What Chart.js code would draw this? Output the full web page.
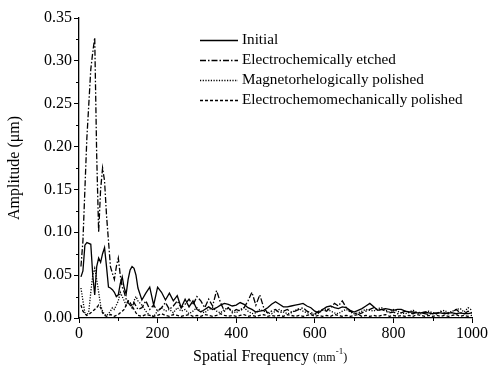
<!DOCTYPE html>
<html><head><meta charset="utf-8">
<script src="https://cdn.jsdelivr.net/npm/chart.js@4/dist/chart.umd.min.js"></script>
<style>html,body{margin:0;padding:0;background:#fff}#wrap{width:489px;height:374px}</style>
</head><body><div id="wrap"><canvas id="c" width="489" height="374"></canvas></div>
<script>
const freq = [5,10,15,20,25,30,35,40,45,50,55,60,65,70,75,80,85,90,95,100,105,110,115,120,125,130,135,140,145,150,
160,170,180,190,200,210,220,230,240,250,260,270,280,290,300,310,320,330,340,350,360,370,380,390,400,
410,420,430,440,450,460,470,480,490,500,510,520,530,540,550,560,570,580,590,600,610,620,630,640,650,
660,670,680,690,700,710,720,730,740,750,760,770,780,790,800,810,820,830,840,850,860,870,880,890,900,
910,920,930,940,950,960,970,980,990,1000];

const initial = [0.048,0.055,0.085,0.088,0.087,0.086,0.05,0.027,0.06,0.07,0.065,0.075,0.082,0.06,0.036,0.035,0.033,0.03,0.025,0.027,0.04,0.048,0.035,0.028,0.045,0.056,0.06,0.058,0.05,0.035,
0.021,0.029,0.036,0.015,0.036,0.03,0.021,0.029,0.02,0.026,0.012,0.022,0.013,0.02,0.01,0.007,0.01,0.013,0.01,0.012,0.015,0.017,0.016,0.014,0.015,
0.018,0.016,0.012,0.01,0.007,0.008,0.009,0.012,0.016,0.019,0.016,0.013,0.013,0.014,0.015,0.016,0.017,0.014,0.012,0.008,0.006,0.01,0.013,0.014,0.012,
0.011,0.013,0.012,0.009,0.007,0.009,0.011,0.014,0.017,0.013,0.009,0.01,0.011,0.01,0.009,0.01,0.01,0.008,0.007,0.007,0.006,0.006,0.007,0.006,0.005,
0.006,0.006,0.005,0.006,0.006,0.005,0.006,0.005,0.005,0.006];

const etched = [0.06,0.09,0.15,0.21,0.25,0.29,0.31,0.327,0.19,0.1,0.15,0.175,0.16,0.12,0.09,0.06,0.052,0.045,0.06,0.07,0.05,0.036,0.03,0.022,0.018,0.015,0.012,0.018,0.014,0.01,
0.012,0.02,0.01,0.015,0.008,0.012,0.018,0.01,0.014,0.02,0.012,0.016,0.022,0.015,0.025,0.02,0.012,0.022,0.014,0.032,0.018,0.008,0.012,0.006,0.01,
0.008,0.012,0.02,0.03,0.015,0.027,0.012,0.006,0.008,0.01,0.006,0.008,0.01,0.007,0.008,0.01,0.012,0.008,0.006,0.005,0.008,0.01,0.008,0.012,0.017,
0.014,0.02,0.012,0.008,0.006,0.004,0.006,0.008,0.01,0.012,0.009,0.01,0.008,0.006,0.007,0.005,0.006,0.008,0.006,0.005,0.007,0.006,0.005,0.004,0.006,
0.005,0.008,0.006,0.005,0.007,0.01,0.006,0.005,0.008,0.006];

const magneto = [0.035,0.02,0.006,0.003,0.008,0.03,0.05,0.058,0.045,0.03,0.015,0.008,0.004,0.003,0.005,0.008,0.012,0.01,0.015,0.02,0.03,0.025,0.02,0.015,0.02,0.018,0.012,0.02,0.025,0.02,
0.015,0.008,0.003,0.002,0.008,0.012,0.008,0.01,0.006,0.012,0.008,0.01,0.005,0.008,0.012,0.008,0.006,0.01,0.012,0.008,0.006,0.01,0.012,0.008,0.006,
0.01,0.012,0.008,0.005,0.006,0.01,0.008,0.006,0.005,0.008,0.01,0.007,0.005,0.006,0.009,0.011,0.008,0.006,0.005,0.004,0.006,0.009,0.011,0.008,0.006,
0.005,0.008,0.01,0.007,0.005,0.006,0.008,0.01,0.009,0.008,0.011,0.012,0.009,0.007,0.01,0.008,0.006,0.005,0.007,0.009,0.006,0.005,0.007,0.008,0.006,
0.005,0.007,0.009,0.006,0.008,0.01,0.011,0.007,0.012,0.009];

const ecm = [0.015,0.008,0.005,0.003,0.004,0.006,0.008,0.01,0.012,0.015,0.012,0.006,0.003,0.002,0.003,0.004,0.003,0.002,0.003,0.004,0.006,0.008,0.01,0.015,0.02,0.018,0.014,0.01,0.006,0.003,
0.002,0.004,0.003,0.002,0.003,0.005,0.003,0.002,0.004,0.003,0.002,0.003,0.004,0.002,0.003,0.002,0.004,0.003,0.002,0.003,0.005,0.003,0.002,0.003,0.002,
0.003,0.004,0.002,0.003,0.002,0.003,0.004,0.002,0.003,0.002,0.003,0.002,0.004,0.003,0.002,0.003,0.002,0.003,0.004,0.002,0.003,0.002,0.003,0.002,0.004,
0.003,0.002,0.003,0.002,0.003,0.004,0.002,0.003,0.002,0.003,0.002,0.003,0.004,0.002,0.003,0.002,0.003,0.002,0.003,0.002,0.004,0.003,0.002,0.003,0.002,
0.003,0.002,0.003,0.002,0.003,0.004,0.002,0.003,0.002,0.003];

const labels = ['Initial','Electrochemically etched','Magnetorhelogically polished','Electrochemomechanically polished'];
const dashes = [[], [6,2,1.5,2], [1.2,1.5], [3,2]];
const seriesVals = [initial, etched, magneto, ecm];

const FONT = 'Liberation Serif, Times New Roman, serif';

const datasets = seriesVals.map((vals, i) => ({
  label: labels[i],
  data: freq.map((f, j) => ({x: f, y: vals[j]})),
  borderColor: '#000',
  borderWidth: 1.3,
  borderDash: dashes[i],
  pointRadius: 0,
  tension: 0,
  fill: false
}));

const decor = {
  id: 'decor',
  afterDraw(chart) {
    const ctx = chart.ctx;
    const xs = chart.scales.x, ys = chart.scales.y;
    const area = chart.chartArea;
    ctx.save();
    ctx.strokeStyle = '#000';
    ctx.lineWidth = 1;
    for (let v = 0.025; v < 0.35; v += 0.05) {
      const py = Math.round(ys.getPixelForValue(v)) + 0.5;
      ctx.beginPath(); ctx.moveTo(area.left - 3, py); ctx.lineTo(area.left, py); ctx.stroke();
    }
    for (let v = 100; v < 1000; v += 200) {
      const px = Math.round(xs.getPixelForValue(v)) + 0.5;
      ctx.beginPath(); ctx.moveTo(px, area.bottom); ctx.lineTo(px, area.bottom + 3); ctx.stroke();
    }
    ctx.fillStyle = '#000';
    ctx.font = '15.2px ' + FONT;
    ctx.textBaseline = 'middle';
    const lx0 = 200, lx1 = 238, tx = 242;
    const rows = [40, 60, 80, 100];
    chart.data.datasets.forEach((ds, i) => {
      ctx.setLineDash(ds.borderDash || []);
      ctx.lineWidth = ds.borderWidth;
      ctx.beginPath(); ctx.moveTo(lx0, rows[i] + 0.5); ctx.lineTo(lx1, rows[i] + 0.5); ctx.stroke();
      ctx.setLineDash([]);
      ctx.fillText(ds.label, tx, rows[i]);
    });
    ctx.save();
    ctx.translate(15, 168);
    ctx.rotate(-Math.PI / 2);
    ctx.textAlign = 'center';
    ctx.font = '16px ' + FONT;
    ctx.fillText('Amplitude (\u03BCm)', 0, 0);
    ctx.restore();
    ctx.textAlign = 'left';
    ctx.textBaseline = 'alphabetic';
    const base = 361;
    ctx.font = '16px ' + FONT;
    const t1 = 'Spatial Frequency ';
    let x = 193;
    ctx.fillText(t1, x, base); x += ctx.measureText(t1).width;
    ctx.font = '12px ' + FONT;
    ctx.fillText('(mm', x, base); x += ctx.measureText('(mm').width;
    ctx.font = '9px ' + FONT;
    ctx.fillText('-1', x, base - 7); x += ctx.measureText('-1').width;
    ctx.font = '12px ' + FONT;
    ctx.fillText(')', x, base);
    ctx.restore();
  }
};

new Chart(document.getElementById('c'), {
  type: 'line',
  data: { datasets },
  options: {
    responsive: false,
    animation: false,
    layout: { padding: { left: 0, right: 16, top: 18, bottom: 0 } },
    plugins: { legend: { display: false }, tooltip: { enabled: false } },
    scales: {
      x: {
        type: 'linear', min: 0, max: 1000,
        afterFit: s => { s.height = 56; },
        border: { display: true, color: '#000', width: 1.3 },
        grid: { drawOnChartArea: false, drawTicks: true, tickLength: 5, color: '#000' },
        ticks: { stepSize: 200, color: '#000', padding: 1, maxRotation: 0, font: { family: FONT, size: 16 },
                 callback: v => String(v) }
      },
      y: {
        min: 0, max: 0.35,
        afterFit: s => { s.width = 79; },
        border: { display: true, color: '#000', width: 1.3 },
        grid: { drawOnChartArea: false, drawTicks: true, tickLength: 5, color: '#000' },
        ticks: { stepSize: 0.05, color: '#000', padding: 2, font: { family: FONT, size: 16 },
                 callback: v => v.toFixed(2) }
      }
    }
  },
  plugins: [decor]
});
</script></body></html>
